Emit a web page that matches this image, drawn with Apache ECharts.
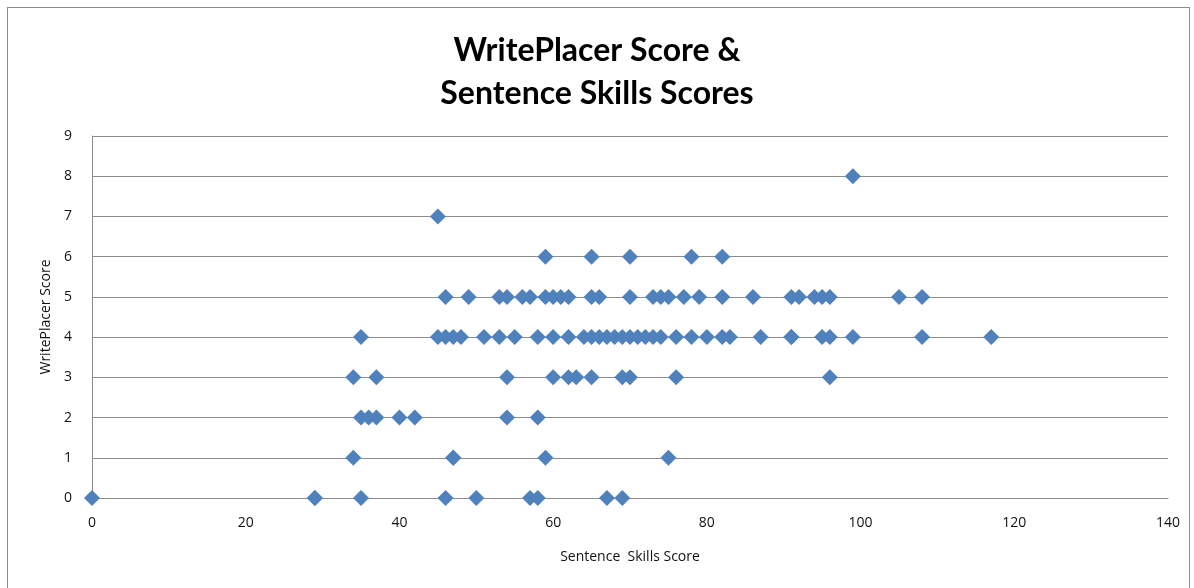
<!DOCTYPE html>
<html><head><meta charset="utf-8">
<script src="https://cdn.jsdelivr.net/npm/echarts@6/dist/echarts.min.js"></script>
<style>
html,body{margin:0;padding:0;background:#fff;}
#frame{position:absolute;left:7px;top:7px;width:1183px;height:590px;border:1px solid #8c8c8c;box-sizing:border-box;}
#chart{position:absolute;left:0;top:0;width:1194px;height:588px;}
</style></head>
<body>
<div id="frame"></div>
<div id="chart"></div>
<script>
// Sentence Skills Score (x) values grouped by WritePlacer Score (y)
const score0 = [0, 29, 29, 35, 46, 50, 57, 58, 67, 69];
const score1 = [34, 47, 47, 59, 75];
const score2 = [35, 36, 37, 40, 42, 54, 58];
const score3 = [34, 37, 54, 60, 62, 63, 65, 69, 70, 76, 96];
const score4 = [35, 45, 46, 47, 48, 51, 53, 55, 58, 60, 62, 64, 65, 66, 67, 68, 69, 70, 71, 72, 73, 74, 76, 78, 80, 82, 83, 87, 91, 91, 95, 96, 99, 108, 117];
const score5 = [46, 49, 53, 54, 56, 57, 59, 60, 61, 62, 65, 66, 70, 73, 74, 75, 77, 79, 82, 86, 91, 92, 94, 95, 96, 105, 108];
const score6 = [59, 65, 70, 78, 82];
const score7 = [45];
const score8 = [99];
const groups = [score0, score1, score2, score3, score4, score5, score6, score7, score8];
const xTicks = [0, 20, 40, 60, 80, 100, 120, 140];
const yTicks = [0, 1, 2, 3, 4, 5, 6, 7, 8, 9];

const data = [];
groups.forEach((g, y) => g.forEach(x => data.push([x, y])));

const chart = echarts.init(document.getElementById('chart'));
chart.setOption({
  animation: false,
  title: {
    text: 'WritePlacer Score &\nSentence Skills Scores',
    left: 'center', top: 24,
    textStyle: {fontFamily: 'Lato', fontWeight: 'bold', fontSize: 32, lineHeight: 43, color: '#000'}
  },
  grid: {left: 92, right: 26, top: 136, bottom: 90},
  xAxis: {
    type: 'value', min: xTicks[0], max: xTicks[xTicks.length - 1], interval: 20,
    name: 'Sentence  Skills Score', nameLocation: 'middle', nameGap: 52,
    nameTextStyle: {fontFamily: 'Open Sans', fontSize: 14, color: '#111'},
    axisLine: {show: true, lineStyle: {color: '#8c8c8c', width: 1}},
    axisTick: {show: false},
    splitLine: {show: false},
    axisLabel: {fontFamily: 'Open Sans', fontSize: 14, color: '#111', margin: 18}
  },
  yAxis: {
    type: 'value', min: yTicks[0], max: yTicks[yTicks.length - 1], interval: 1,
    name: 'WritePlacer Score', nameLocation: 'middle', nameGap: 37, nameRotate: 90,
    nameTextStyle: {fontFamily: 'Open Sans', fontSize: 14, color: '#111'},
    axisLine: {show: true, lineStyle: {color: '#8c8c8c', width: 1}},
    axisTick: {show: false},
    splitLine: {show: true, lineStyle: {color: '#8c8c8c', width: 1}},
    axisLabel: {fontFamily: 'Open Sans', fontSize: 14, color: '#111', margin: 20}
  },
  series: [{
    type: 'scatter',
    symbol: 'diamond',
    symbolSize: 16,
    itemStyle: {color: '#4F81BD', opacity: 1},
    data: data
  }]
});
</script>
</body></html>
